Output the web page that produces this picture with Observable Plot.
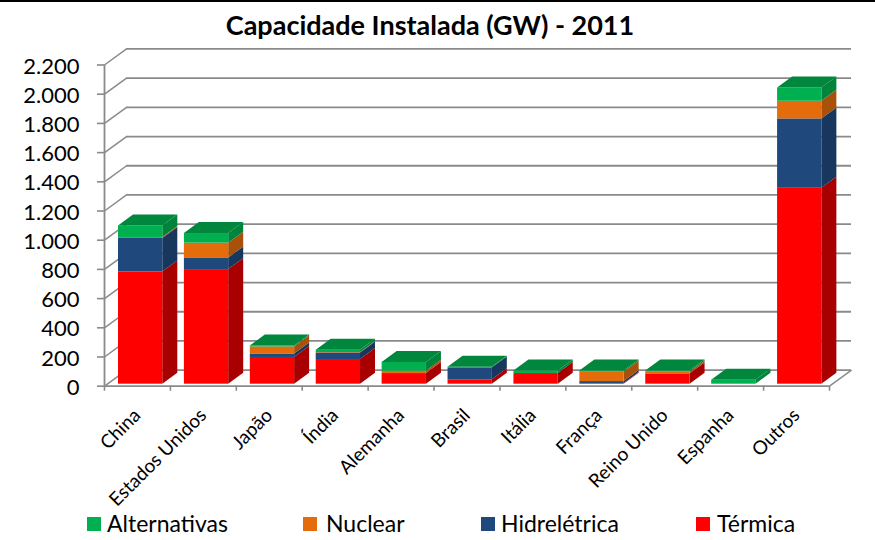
<!DOCTYPE html>
<html lang="pt">
<head>
<meta charset="utf-8">
<script src="https://cdn.jsdelivr.net/npm/d3@7"></script>
<script src="https://cdn.jsdelivr.net/npm/@observablehq/plot@0.6"></script>
<style>
  html, body { margin: 0; padding: 0; background: #fff; }
  #page { position: relative; width: 875px; height: 540px; overflow: hidden; font-family: Lato, sans-serif; color: #000; }
  #title { height: 38px; border-top: 2px solid #000; box-sizing: content-box; text-align: center; font-size: 27px; font-weight: 700; line-height: 45px; padding-right: 15px; white-space: nowrap; }
  #chart svg { display: block; }
  #legend { position: relative; height: 35px; margin-top: -10px; font-size: 23px; }
  #legend span { position: absolute; top: 3px; line-height: 31px; white-space: nowrap; }
  #legend i { position: absolute; width: 14px; height: 14px; top: 12px; }
</style>
</head>
<body>
<div id="page">
  <div id="title">Capacidade Instalada (GW) - 2011</div>
  <div id="chart"></div>
  <div id="legend"></div>
</div>
<script>
const categorias = ["China","Estados Unidos","Japão","Índia","Alemanha","Brasil","Itália","França","Reino Unido","Espanha","Outros"];
const termica      = [769, 785, 183, 169,  73,  30,  73,   5,  71,   0, 1342];
const hidreletrica = [229,  80,  24,  45,   0,  82,   0,  13,   0,   0,  475];
const nuclear      = [  7, 101,  48,   3,  16,   0,   0,  64,  11,   0,  121];
const alternativas = [ 79,  66,   7,  16,  60,   4,  18,   9,   9,  27,   91];
const yTicks = [0,200,400,600,800,1000,1200,1400,1600,1800,2000,2200];

const series = [
  {nome: "Térmica",      valores: termica,      frente: "#ff0000", lado: "#a80000", topo: "#a80000"},
  {nome: "Hidrelétrica", valores: hidreletrica, frente: "#1f497d", lado: "#17375e", topo: "#17375e"},
  {nome: "Nuclear",      valores: nuclear,      frente: "#e46c0a", lado: "#a9510a", topo: "#a9510a"},
  {nome: "Alternativas", valores: alternativas, frente: "#00b050", lado: "#00843c", topo: "#00873d"}
];
const legenda = [
  {nome: "Alternativas", cor: "#00b050", q: 87,  t: 107},
  {nome: "Nuclear",      cor: "#e46c0a", q: 303, t: 326},
  {nome: "Hidrelétrica", cor: "#1f497d", q: 481, t: 501},
  {nome: "Térmica",      cor: "#ff0000", q: 696, t: 717}
];

// Oblique-projection depths, in data units of the x (category) and y (GW) scales.
const n = categorias.length;
const pisoX = 0.334, pisoY = 110;   // depth of the floor/walls
const barraX = 0.2276, barraY = 75; // depth of a bar
const folga = 0.2124, largura = 0.672, base = 13.7; // bar placement on the floor

const segmentos = [];
categorias.forEach((c, i) => {
  let acum = base;
  series.forEach(s => {
    const v = s.valores[i];
    if (v > 0) {
      segmentos.push({id: c + s.nome, cat: i, x1: i + folga, x2: i + folga + largura, y1: acum, y2: acum + v, s});
      acum += v;
    }
  });
});
const topos = categorias.map((c, i) => segmentos.filter(d => d.cat === i).at(-1));
const lados = segmentos.flatMap(d => [
  {id: d.id, x: d.x2, y1: d.y1, y2: d.y2, cor: d.s.lado},
  {id: d.id, x: d.x2 + barraX, y1: d.y1 + barraY, y2: d.y2 + barraY, cor: d.s.lado}
]);
const tampas = topos.flatMap(d => [
  {id: d.id, x1: d.x1, x2: d.x2, y: d.y2, cor: d.s.topo},
  {id: d.id, x1: d.x1 + barraX, x2: d.x2 + barraX, y: d.y2 + barraY, cor: d.s.topo}
]);

const cinza = "#8a8a8a";
const fmt = v => d3.format(",")(v).replace(/,/g, ".");
const indices = d3.range(n + 1);

const plot = Plot.plot({
  width: 875, height: 475,
  marginLeft: 104, marginRight: 24, marginTop: 8, marginBottom: 129.3,
  x: {type: "linear", domain: [0, n + pisoX], axis: null},
  y: {type: "linear", domain: [0, 2313], axis: null},
  color: {type: "identity"},
  style: {fontFamily: "Lato, sans-serif", color: "#000", background: "transparent"},
  marks: [
    // back-wall gridlines and left-wall diagonals
    Plot.ruleY(yTicks, {y: d => d + pisoY, x1: pisoX, x2: n + pisoX, stroke: cinza, strokeWidth: 1.8}),
    Plot.link(yTicks, {x1: 0, y1: d => d, x2: pisoX, y2: d => d + pisoY, stroke: cinza, strokeWidth: 1.5}),
    // floor right edge and front edge
    Plot.link([0], {x1: n, y1: 0, x2: n + pisoX, y2: pisoY, stroke: cinza, strokeWidth: 1.5}),
    Plot.ruleY([0], {x1: 0, x2: n, stroke: cinza, strokeWidth: 1.8}),
    // left axis line
    Plot.ruleX([0], {y1: 0, y2: 2200, stroke: cinza, strokeWidth: 1.8}),
    // axes
    Plot.axisY(yTicks, {anchor: "left", tickFormat: () => "", tickSize: 7, stroke: cinza, strokeWidth: 1.6, label: null}),
    Plot.text(yTicks, {x: 0, y: d => d, text: fmt, dx: -25, dy: 1.5, textAnchor: "end", fontSize: 22, fill: "#000"}),
    Plot.axisX(indices, {anchor: "bottom", tickFormat: () => "", tickSize: 5, stroke: cinza, strokeWidth: 1.6, label: null}),
    Plot.text(categorias, {
      x: (d, i) => i + 0.5, y: 0, dy: 26, dx: 0,
      text: d => d, textAnchor: "end", rotate: -45, fontSize: 19, fill: "#000"
    }),
    // 3D bars
    Plot.area(lados, {x1: "x", y1: "y1", y2: "y2", z: "id", fill: "cor"}),
    Plot.rect(segmentos, {x1: "x1", x2: "x2", y1: "y1", y2: "y2", fill: d => d.s.frente}),
    Plot.area(tampas, {x1: "x1", x2: "x2", y1: "y", y2: "y", z: "id", fill: "cor"})
  ]
});
document.getElementById("chart").append(plot);

const leg = document.getElementById("legend");
legenda.forEach(d => {
  const q = document.createElement("i"); q.style.left = d.q + "px"; q.style.background = d.cor;
  const t = document.createElement("span"); t.style.left = d.t + "px"; t.textContent = d.nome;
  leg.append(q, t);
});
</script>
</body>
</html>
